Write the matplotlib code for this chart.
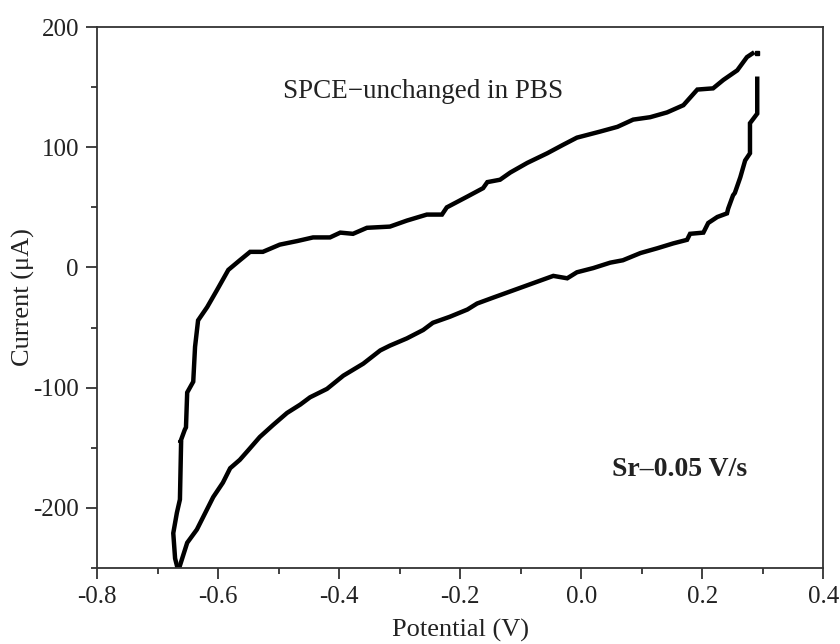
import matplotlib.pyplot as plt
from matplotlib.ticker import MultipleLocator

plt.rcParams['font.family'] = ['Liberation Serif', 'DejaVu Serif']

# anodic (forward) scan
fwd_v = [-0.668, -0.671, -0.674, -0.668, -0.663, -0.661, -0.663, -0.655, -0.653, -0.651,
         -0.641, -0.638, -0.633, -0.618, -0.602, -0.583, -0.564, -0.547, -0.526, -0.498,
         -0.469, -0.443, -0.415, -0.398, -0.377, -0.354, -0.316, -0.288, -0.255, -0.230,
         -0.222, -0.188, -0.162, -0.155, -0.134, -0.117, -0.089, -0.056, -0.030, -0.007,
         0.031, 0.060, 0.086, 0.114, 0.142, 0.169, 0.192, 0.218, 0.235, 0.258, 0.274, 0.283]
fwd_i = [-248, -242, -221, -204, -193, -144, -146, -135, -133, -104,
         -95, -66, -44, -33, -19, -2, 6, 13, 13, 19,
         22, 25, 25, 29, 28, 33, 34, 39, 44, 44,
         50, 59, 66, 71, 73, 79, 87, 95, 102, 108,
         113, 117, 123, 125, 129, 135, 148, 149, 156, 164, 175, 178]

# cathodic (reverse) scan
rev_v = [0.291, 0.291, 0.279, 0.279, 0.271, 0.263, 0.254, 0.251, 0.243, 0.241, 0.225,
         0.210, 0.202, 0.180, 0.175, 0.152, 0.126, 0.098, 0.069, 0.048, 0.020, -0.007,
         -0.023, -0.046, -0.079, -0.112, -0.145, -0.172, -0.188, -0.217, -0.245, -0.261,
         -0.288, -0.316, -0.332, -0.360, -0.393, -0.420, -0.448, -0.464, -0.486, -0.509,
         -0.531, -0.550, -0.564, -0.580, -0.592, -0.608, -0.625, -0.635, -0.651, -0.663]
rev_i = [157, 128, 120, 95, 89, 75, 62, 60, 49, 45, 42,
         37, 29, 28, 23, 20, 16, 12, 6, 4, -0.5, -4,
         -9, -7, -13, -19, -25, -30, -35, -41, -46, -52,
         -59, -65, -69, -80, -90, -101, -108, -114, -121, -131,
         -141, -152, -160, -167, -179, -191, -208, -218, -229, -248]

fig, ax = plt.subplots(figsize=(8.4, 6.44), dpi=100)
fig.subplots_adjust(left=0.1155, right=0.98, top=0.958, bottom=0.118)

ax.plot(fwd_v, fwd_i, color='black', lw=3.2, solid_joinstyle='miter')
ax.plot(rev_v, rev_i, color='black', lw=3.2, solid_joinstyle='miter')
ax.plot([0.291], [178], 's', color='black', ms=3)

ax.set_xlim(-0.8, 0.4)
ax.set_ylim(-250, 200)
ax.xaxis.set_minor_locator(MultipleLocator(0.1))
ax.yaxis.set_minor_locator(MultipleLocator(50))
ax.set_xticks([-0.8, -0.6, -0.4, -0.2, 0.0, 0.2, 0.4])
ax.set_xticklabels(['-0.8', '-0.6', '-0.4', '-0.2', '0.0', '0.2', '0.4'])
ax.set_yticks([-200, -100, 0, 100, 200])
ax.set_yticklabels(['-200', '-100', '0', '100', '200'])

for s in ax.spines.values():
    s.set_color('#333333')
    s.set_linewidth(1.3)
ax.tick_params(which='both', direction='out', top=False, right=False,
               color='#333333', width=1.3, labelsize=18, labelcolor='#222222')
ax.tick_params(which='major', length=8, pad=5)
ax.tick_params(which='minor', length=4.5)

ax.set_xlabel('Potential (V)', fontsize=19, color='#222222')
ax.set_ylabel('Current (\u03bcA)', fontsize=19, color='#222222')
ax.xaxis.set_label_coords(0.5, -0.094)
ax.yaxis.set_label_coords(-0.086, 0.5)

ax.text(-0.493, 146, 'SPCE\u2212unchanged in PBS', fontsize=19.5, color='#222222', va='center')
ax.text(0.051, -168, 'Sr\u20130.05 V/s', fontsize=20, fontweight='bold', color='#222222', va='center')

plt.savefig('out.png', dpi=100)
